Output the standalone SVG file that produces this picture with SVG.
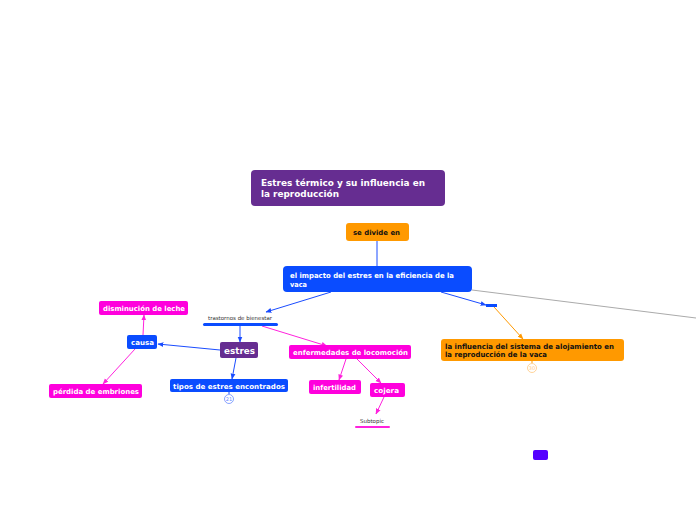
<svg xmlns="http://www.w3.org/2000/svg" width="696" height="520" viewBox="0 0 696 520">
<style>
text{font-family:"DejaVu Sans","Liberation Sans",sans-serif;font-weight:bold}
text.n{font-weight:normal}
.w{fill:#fff}
.k{fill:#111}
.blue{fill:#0a4cff}
.purple{fill:#662d91}
.orange{fill:#ff9900}
.mag{fill:#ff00dd}
.cb{stroke:#1a4cff;stroke-width:1;fill:none}
.cm{stroke:#ff22dd;stroke-width:1;fill:none}
.co{stroke:#ff9900;stroke-width:1;fill:none}
.badge{fill:#fff;stroke-width:0.8}
</style>
<defs>
<marker id="ab" viewBox="0 0 10 10" refX="9" refY="5" markerWidth="6" markerHeight="6" orient="auto"><path d="M0,1L10,5L0,9z" fill="#1a4cff"/></marker>
<marker id="am" viewBox="0 0 10 10" refX="9" refY="5" markerWidth="6" markerHeight="6" orient="auto"><path d="M0,1L10,5L0,9z" fill="#ff22dd"/></marker>
<marker id="ao" viewBox="0 0 10 10" refX="9" refY="5" markerWidth="6" markerHeight="6" orient="auto"><path d="M0,1L10,5L0,9z" fill="#ff9900"/></marker>
</defs>
<rect width="696" height="520" fill="#fff"/>
<g id="connectors">
<line class="cb" x1="377" y1="241" x2="377" y2="266"/>
<line class="cb" x1="331" y1="292" x2="266" y2="312" marker-end="url(#ab)"/>
<line class="cb" x1="240" y1="326" x2="240" y2="342" marker-end="url(#ab)"/>
<line class="cb" x1="220" y1="350" x2="158" y2="344" marker-end="url(#ab)"/>
<line class="cm" x1="143" y1="335" x2="144" y2="315" marker-end="url(#am)"/>
<line class="cm" x1="135" y1="349" x2="103" y2="384" marker-end="url(#am)"/>
<line class="cb" x1="236" y1="358" x2="232" y2="379" marker-end="url(#ab)"/>
<line class="cm" x1="262" y1="326" x2="327" y2="346" marker-end="url(#am)"/>
<line class="cm" x1="346" y1="359" x2="339" y2="380" marker-end="url(#am)"/>
<line class="cm" x1="357" y1="359" x2="381" y2="383" marker-end="url(#am)"/>
<line class="cm" x1="384" y1="397" x2="376" y2="414" marker-end="url(#am)"/>
<line class="cb" x1="441" y1="292" x2="486" y2="305" marker-end="url(#ab)"/>
<line class="co" x1="494" y1="307" x2="523" y2="339" marker-end="url(#ao)"/>
<line x1="472" y1="290" x2="696" y2="318" stroke="#aaa" stroke-width="1"/>
<line class="cb" x1="229" y1="392" x2="229" y2="394"/>
<line class="co" x1="532" y1="361" x2="532" y2="363"/>
</g>
<g id="title">
<rect class="purple" x="251" y="170" width="194" height="36" rx="4"/>
<text class="w" x="261" y="186" font-size="9" textLength="164" lengthAdjust="spacingAndGlyphs">Estres térmico y su influencia en</text>
<text class="w" x="261" y="197" font-size="9" textLength="78" lengthAdjust="spacingAndGlyphs">la reproducción</text>
</g>
<g id="se-divide">
<rect class="orange" x="346" y="223" width="63" height="18" rx="3"/>
<text class="k" x="353" y="234.5" font-size="7" textLength="47" lengthAdjust="spacingAndGlyphs">se divide en</text>
</g>
<g id="impacto">
<rect class="blue" x="283" y="266" width="189" height="26" rx="4"/>
<text class="w" x="290" y="278" font-size="7.2" textLength="164" lengthAdjust="spacingAndGlyphs">el impacto del estres en la eficiencia de la</text>
<text class="w" x="290" y="287" font-size="7.2" textLength="17" lengthAdjust="spacingAndGlyphs">vaca</text>
</g>
<g id="trastornos">
<text class="n" x="208" y="320" font-size="5.5" fill="#333" textLength="64" lengthAdjust="spacingAndGlyphs">trastornos de bienestar</text>
<rect x="203" y="323" width="75" height="3" rx="1.5" fill="#0a4cff"/>
</g>
<g id="estres">
<rect class="purple" x="220" y="342" width="38" height="16" rx="2"/>
<text class="w" x="224" y="353.5" font-size="9" textLength="31" lengthAdjust="spacingAndGlyphs">estres</text>
</g>
<g id="causa">
<rect class="blue" x="127" y="335" width="30" height="14" rx="2"/>
<text class="w" x="131" y="345" font-size="7" textLength="23" lengthAdjust="spacingAndGlyphs">causa</text>
</g>
<g id="disminucion">
<rect class="mag" x="99" y="301" width="89" height="14" rx="2"/>
<text class="w" x="103" y="311" font-size="7" textLength="82" lengthAdjust="spacingAndGlyphs">disminución de leche</text>
</g>
<g id="perdida">
<rect class="mag" x="49" y="384" width="93" height="14" rx="2"/>
<text class="w" x="53" y="394" font-size="7" textLength="86" lengthAdjust="spacingAndGlyphs">pérdida de embriones</text>
</g>
<g id="tipos">
<rect class="blue" x="170" y="379" width="118" height="13" rx="2"/>
<text class="w" x="173" y="388.5" font-size="7" textLength="112" lengthAdjust="spacingAndGlyphs">tipos de  estres encontrados</text>
<circle class="badge" cx="229" cy="399" r="4.5" stroke="#6a8cff"/>
<text class="n" x="229" y="401" font-size="5" fill="#6a8cff" text-anchor="middle">21</text>
</g>
<g id="enfermedades">
<rect class="mag" x="289" y="345" width="122" height="14" rx="2"/>
<text class="w" x="293" y="355" font-size="7" textLength="115" lengthAdjust="spacingAndGlyphs">enfermedades de locomoción</text>
</g>
<g id="infertilidad">
<rect class="mag" x="309" y="380" width="52" height="14" rx="2"/>
<text class="w" x="313" y="390" font-size="7" textLength="43" lengthAdjust="spacingAndGlyphs">infertilidad</text>
</g>
<g id="cojera">
<rect class="mag" x="370" y="383" width="35" height="14" rx="2"/>
<text class="w" x="374" y="393" font-size="7" textLength="25" lengthAdjust="spacingAndGlyphs">cojera</text>
</g>
<g id="subtopic">
<text class="n" x="360" y="423" font-size="5.5" fill="#333" textLength="24" lengthAdjust="spacingAndGlyphs">Subtopic</text>
<rect x="355" y="426" width="35" height="2" rx="1" fill="#ff22dd"/>
</g>
<g id="bar-node">
<rect x="486" y="304" width="11" height="3" fill="#0a4cff"/>
</g>
<g id="alojamiento">
<rect class="orange" x="441" y="339" width="183" height="22" rx="3"/>
<text class="k" x="445" y="348.5" font-size="7.2" textLength="169" lengthAdjust="spacingAndGlyphs">la influencia del sistema de alojamiento en</text>
<text class="k" x="445" y="357" font-size="7.2" textLength="102" lengthAdjust="spacingAndGlyphs">la reproducción de la vaca</text>
<circle class="badge" cx="532" cy="368" r="4.5" stroke="#ffc880"/>
<text class="n" x="532" y="370" font-size="5" fill="#ffc880" text-anchor="middle">30</text>
</g>
<g id="floating">
<rect x="533" y="450" width="15" height="10" rx="2" fill="#5500ff"/>
</g>
</svg>
